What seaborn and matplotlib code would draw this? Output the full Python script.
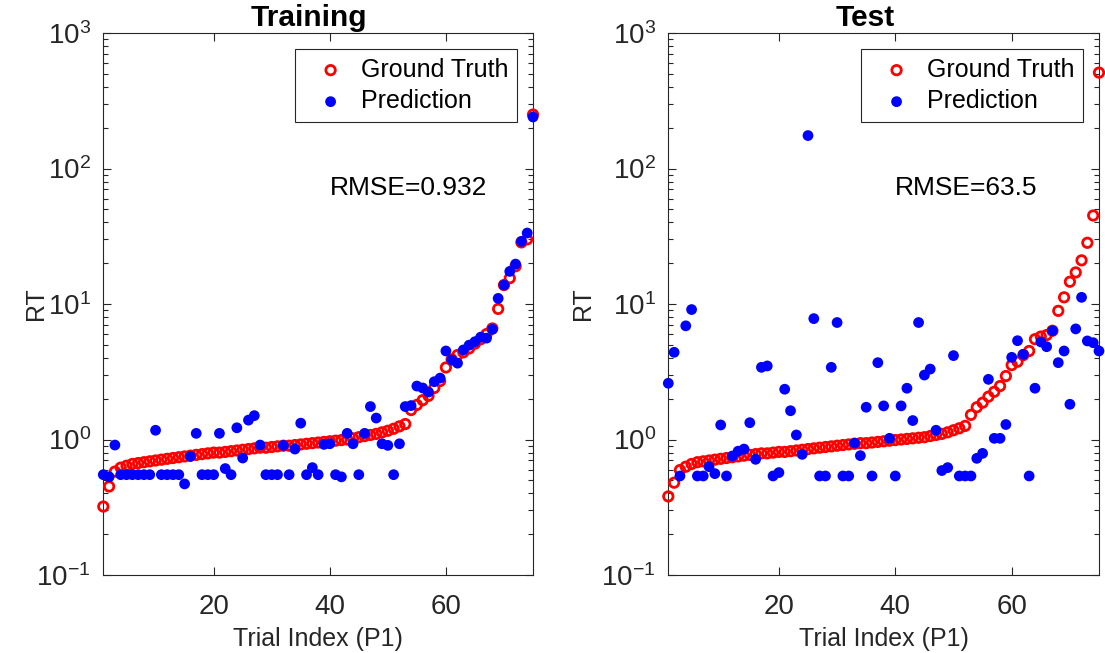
import numpy as np
import pandas as pd
import matplotlib
matplotlib.use("Agg")
import matplotlib.pyplot as plt
import seaborn as sns

# ---------------- data ----------------
trial_index = list(range(1, 76))

train_truth = [0.32, 0.45, 0.58, 0.62, 0.64, 0.66, 0.67, 0.68, 0.69, 0.70,
               0.71, 0.72, 0.73, 0.74, 0.75, 0.76, 0.77, 0.78, 0.79, 0.80,
               0.80, 0.81, 0.82, 0.83, 0.84, 0.85, 0.86, 0.87, 0.87, 0.88,
               0.89, 0.90, 0.90, 0.91, 0.92, 0.93, 0.94, 0.95, 0.96, 0.97,
               0.98, 0.99, 1.00, 1.02, 1.04, 1.06, 1.08, 1.10, 1.13, 1.16,
               1.20, 1.25, 1.30, 1.65, 1.80, 1.95, 2.10, 2.40, 2.70, 3.40,
               3.90, 4.20, 4.40, 4.70, 5.10, 5.50, 6.00, 6.60, 9.20, 13.8,
               15.5, 19.0, 28.5, 30.0, 250.0]

train_pred = [0.55, 0.53, 0.91, 0.55, 0.55, 0.55, 0.55, 0.55, 0.55, 1.17,
              0.55, 0.55, 0.55, 0.55, 0.47, 0.75, 1.11, 0.55, 0.55, 0.55,
              1.11, 0.61, 0.55, 1.22, 0.73, 1.39, 1.50, 0.91, 0.55, 0.55,
              0.55, 0.905, 0.55, 0.85, 1.32, 0.55, 0.62, 0.55, 0.92, 0.93,
              0.55, 0.53, 1.11, 0.93, 0.55, 1.11, 1.75, 1.44, 0.93, 0.905,
              0.55, 0.93, 1.75, 1.78, 2.48, 2.40, 2.24, 2.67, 2.84, 4.50,
              3.86, 3.66, 4.58, 4.97, 5.27, 5.70, 5.60, 6.50, 11.0, 13.8,
              17.4, 19.7, 29.0, 33.4, 240.0]

test_truth = [0.38, 0.48, 0.595, 0.63, 0.66, 0.68, 0.69, 0.70, 0.71, 0.72,
              0.73, 0.74, 0.75, 0.76, 0.77, 0.78, 0.79, 0.79, 0.80, 0.81,
              0.81, 0.82, 0.83, 0.84, 0.85, 0.86, 0.87, 0.88, 0.89, 0.90,
              0.91, 0.92, 0.93, 0.94, 0.94, 0.95, 0.96, 0.97, 0.98, 0.99,
              1.00, 1.01, 1.02, 1.03, 1.04, 1.06, 1.08, 1.10, 1.13, 1.17,
              1.21, 1.26, 1.52, 1.73, 1.87, 2.07, 2.25, 2.48, 2.94, 3.54,
              3.75, 4.20, 4.50, 5.50, 5.75, 5.90, 6.35, 8.90, 11.2, 14.6,
              17.1, 21.0, 28.3, 45.0, 510.0]

test_pred = [2.6, 4.4, 0.538, 6.9, 9.1, 0.538, 0.538, 0.63, 0.56, 1.28,
             0.538, 0.755, 0.82, 0.85, 1.33, 0.714, 3.41, 3.49, 0.538, 0.57,
             2.35, 1.63, 1.08, 0.777, 175.0, 7.8, 0.538, 0.538, 3.41, 7.3,
             0.538, 0.538, 0.94, 0.76, 1.73, 0.538, 3.69, 1.77, 1.02, 0.538,
             1.77, 2.39, 1.38, 7.3, 2.99, 3.31, 1.17, 0.59, 0.62, 4.16,
             0.538, 0.538, 0.538, 0.726, 0.79, 2.78, 1.02, 1.02, 1.29, 4.04,
             5.36, 4.25, 0.538, 2.39, 5.25, 4.84, 6.35, 3.69, 4.5, 1.82,
             6.55, 11.2, 5.34, 5.18, 4.5]

panel_titles = ["Training", "Test"]
rmse_labels = ["RMSE=0.932", "RMSE=63.5"]
x_ticks = [20, 40, 60]

# ---------------- style ----------------
sns.set_style("white")
plt.rcParams["font.family"] = ["Liberation Sans", "DejaVu Sans"]
plt.rcParams["mathtext.fontset"] = "custom"
plt.rcParams["mathtext.rm"] = "Liberation Sans"
plt.rcParams["mathtext.it"] = "Liberation Sans:italic"
plt.rcParams["mathtext.bf"] = "Liberation Sans:bold"

ink = "#262626"
W, H = 1105, 653
fig = plt.figure(figsize=(W / 100, H / 100), dpi=100)
ax_rects = [
    [103.3 / W, (H - 575) / H, (533 - 103.3) / W, (575 - 33) / H],
    [668.3 / W, (H - 575) / H, (1099 - 668.3) / W, (575 - 33) / H],
]
ylabel_x = [-0.128, -0.170]
title_x = [0.479, 0.458]

panels = [(train_truth, train_pred), (test_truth, test_pred)]

for k, (truth, pred) in enumerate(panels):
    ax = fig.add_axes(ax_rects[k])
    df = pd.DataFrame({"idx": trial_index, "truth": truth, "pred": pred})
    sns.scatterplot(data=df, x="idx", y="truth", ax=ax, marker="o", s=46,
                    facecolor="none", edgecolor="red", linewidth=2.0,
                    label="Ground Truth", clip_on=False, zorder=3)
    sns.scatterplot(data=df, x="idx", y="pred", ax=ax, marker="o", s=60,
                    color="blue", edgecolor="none", linewidth=0,
                    label="Prediction", clip_on=False, zorder=4)
    ax.set_yscale("log")
    ax.set_ylim(0.1, 1000)
    ax.set_xlim(1, 75)
    ax.set_xticks(x_ticks)
    ax.set_xticklabels([str(t) for t in x_ticks])
    ax.tick_params(axis="both", which="major", direction="in", length=6,
                   width=0.8, bottom=True, left=True, top=True, right=True,
                   labelsize=20, colors=ink)
    ax.tick_params(axis="x", which="major", pad=14)
    ax.tick_params(axis="y", which="major", pad=9)
    ax.tick_params(axis="y", which="minor", direction="in", length=3.5,
                   width=0.8, left=True, right=True, colors=ink)
    for sp in ax.spines.values():
        sp.set_visible(True)
        sp.set_color(ink)
        sp.set_linewidth(0.8)
    ax.set_xlabel("Trial Index (P1)", fontsize=18, color=ink, labelpad=5)
    ax.set_ylabel("RT", fontsize=18, color=ink)
    ax.yaxis.set_label_coords(ylabel_x[k], 0.5)
    ax.set_title(panel_titles[k], fontsize=21.5, fontweight="bold",
                 color="black", pad=5, x=title_x[k])
    ax.text(40, 72, rmse_labels[k], fontsize=19, color="black",
            ha="left", va="center")
    leg = ax.legend(loc="upper right", bbox_to_anchor=(0.963, 0.971),
                    fontsize=18, frameon=True, fancybox=False,
                    edgecolor=ink, framealpha=1, borderpad=0.36,
                    handletextpad=0.15, handlelength=2.1, labelspacing=0.30,
                    borderaxespad=0)
    leg.get_frame().set_linewidth(0.8)
    for t in leg.get_texts():
        t.set_color("black")

fig.savefig("out.png", dpi=100)
